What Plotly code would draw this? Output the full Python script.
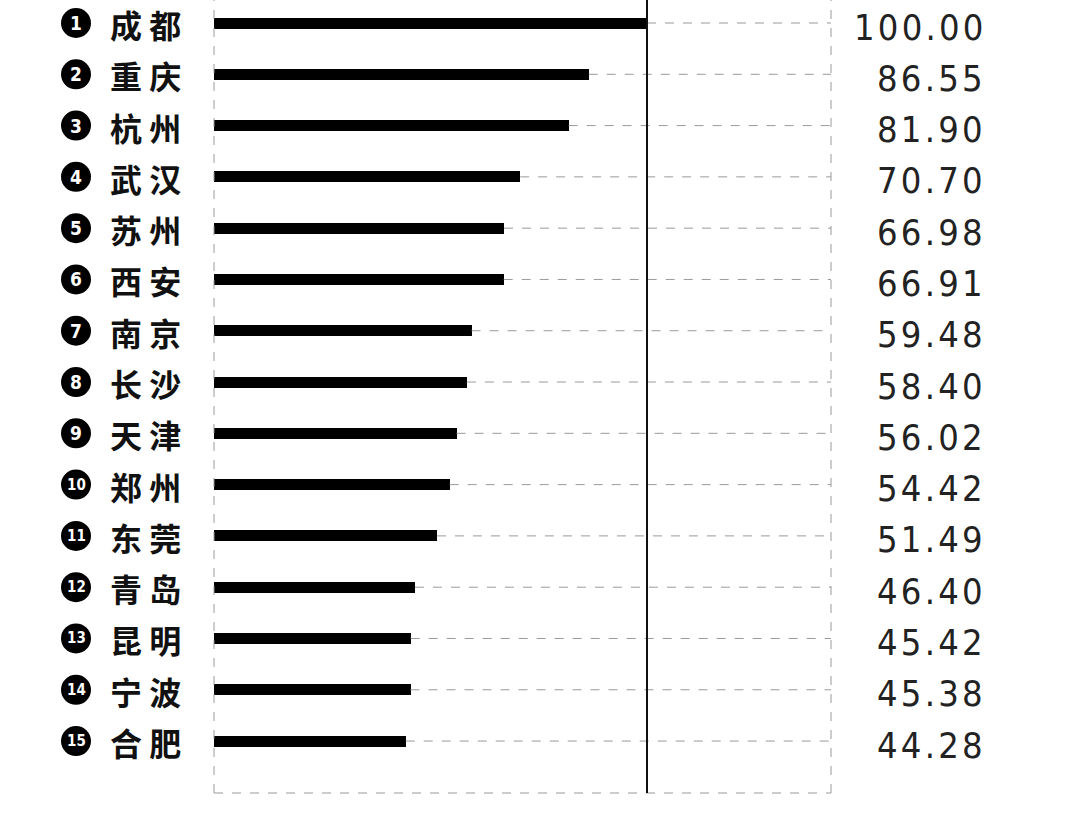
import plotly.graph_objects as go

cities = ['成都', '重庆', '杭州', '武汉', '苏州', '西安', '南京', '长沙',
          '天津', '郑州', '东莞', '青岛', '昆明', '宁波', '合肥']
scores = [100.00, 86.55, 81.90, 70.70, 66.98, 66.91, 59.48, 58.40,
          56.02, 54.42, 51.49, 46.40, 45.42, 45.38, 44.28]
ranks = list(range(1, len(cities) + 1))

# pixel layout
W, H = 1080, 816
left, right, bottom = 214, 831, 793
px_per_unit = 4.33          # 100 -> 433 px
row_pitch = 51.29
first_row_px = 23

x_max = (right - left) / px_per_unit
y_top = 1 - first_row_px / row_pitch
y_bot = y_top + bottom / row_pitch


def ypaper(r):
    return (y_bot - r) / (y_bot - y_top)


grey = '#9a9a9a'
badge_cx = 76   # badge centre, px

fig = go.Figure()

fig.add_trace(go.Bar(
    x=scores, y=ranks, orientation='h', width=11 / row_pitch,
    marker=dict(color='#000000', line=dict(width=0)),
    hoverinfo='skip'))

shapes = []
for r, s in zip(ranks, scores):
    shapes.append(dict(type='line', xref='x', yref='y', x0=s, x1=x_max, y0=r, y1=r,
                       line=dict(color=grey, width=1, dash='dash')))
    # rank badge
    shapes.append(dict(type='circle', xref='paper', yref='paper',
                       xsizemode='pixel', ysizemode='pixel',
                       xanchor=0, yanchor=ypaper(r),
                       x0=-(left - badge_cx) - 15, x1=-(left - badge_cx) + 15,
                       y0=-15, y1=15,
                       fillcolor='#000000', line=dict(width=0)))
# dashed frame
for x0, y0, x1, y1 in [(0, 0, 0, 1), (1, 0, 1, 1), (0, 0, 1, 0)]:
    shapes.append(dict(type='line', xref='paper', yref='paper', x0=x0, x1=x1, y0=y0, y1=y1,
                       line=dict(color=grey, width=1, dash='dash')))
# solid reference line at 100
shapes.append(dict(type='line', xref='x', yref='paper', x0=100, x1=100, y0=0, y1=1,
                   line=dict(color='#111111', width=2)))

annotations = []
for r, c, s in zip(ranks, cities, scores):
    annotations.append(dict(
        xref='paper', yref='y', x=0, y=r, xanchor='center', yanchor='middle',
        xshift=-(left - badge_cx), text=str(r), showarrow=False,
        font=dict(family='DejaVu Sans Condensed', size=19 if r < 10 else 15,
                  color='white', weight='bold')))
    annotations.append(dict(
        xref='paper', yref='y', x=0, y=r, xanchor='right', yanchor='middle',
        xshift=-31, yshift=-1, text=c[0] + ' ' + c[1], showarrow=False,
        font=dict(family='Noto Sans CJK SC', size=32, color='#111111', weight='bold')))
    annotations.append(dict(
        xref='paper', yref='y', x=1, y=r, xanchor='right', yanchor='middle',
        xshift=985 - right, yshift=-4, text='\u200a'.join(f'{s:.2f}'),
        showarrow=False,
        font=dict(family='DejaVu Sans Condensed', size=36, color='#222222',
                  weight='normal')))

fig.update_layout(
    width=W, height=H,
    margin=dict(l=left, r=W - right, t=0, b=H - bottom),
    paper_bgcolor='white', plot_bgcolor='white',
    showlegend=False, bargap=0,
    xaxis=dict(range=[0, x_max], visible=False, fixedrange=True),
    yaxis=dict(range=[y_bot, y_top], visible=False, fixedrange=True),
    shapes=shapes, annotations=annotations)

fig.write_html('out.html', config={'displayModeBar': False},
               post_script="document.body.style.margin = '0';")
